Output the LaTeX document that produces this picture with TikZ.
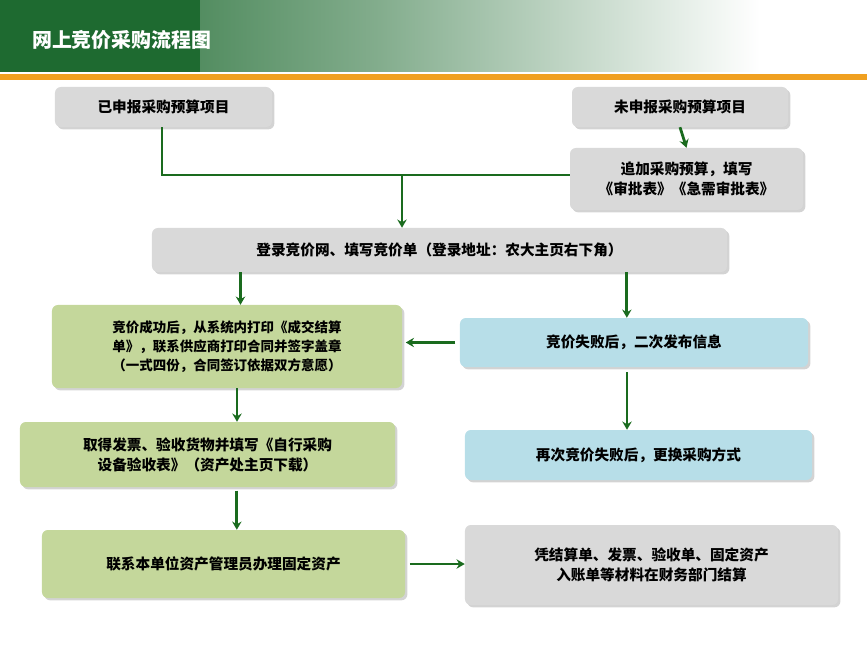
\documentclass[tikz,border=0pt]{standalone}
\usepackage{fontspec}
\setmainfont{Noto Sans CJK SC}
\usetikzlibrary{shadows,arrows.meta}
\definecolor{hdr}{HTML}{1E6A30}
\definecolor{arr}{HTML}{1A6B1E}
\definecolor{gbox}{HTML}{D9D9D9}
\definecolor{lgreen}{HTML}{C4D79B}
\definecolor{lblue}{HTML}{B7DEE8}
\definecolor{orng}{HTML}{F0A020}
\begin{document}
\begin{tikzpicture}[x=0.03cm,y=-0.03cm,
 box/.style={rounded corners=5pt,draw=none,drop shadow={shadow xshift=2pt,shadow yshift=-2pt,opacity=0.35},align=center,font=\bfseries\fontsize{12.5}{17}\selectfont,text=black,inner sep=2pt},
 ar/.style={draw=arr,line width=2.4pt,-{Stealth[length=7pt,width=8pt]}},
 ln/.style={draw=arr,line width=2.4pt}]
\useasboundingbox (0,0) rectangle (867,650);
\shade[left color=hdr,right color=white,middle color=hdr!55!white] (0,0) rectangle (760,72);
\fill[hdr] (0,0) rectangle (200,72);
\fill[orng] (0,74) rectangle (867,80);
\node[text=white,font=\bfseries\fontsize{17}{20}\selectfont,anchor=west] (title) at (28,40) {网上竞价采购流程图};
\node[box,fill=gbox,minimum width=6.51cm,minimum height=1.2cm] (b1) at (163.5,107) {已申报采购预算项目};
\node[box,fill=gbox,minimum width=6.48cm,minimum height=1.2cm] (b2) at (680,107) {未申报采购预算项目};
\node[box,fill=gbox,minimum width=6.99cm,minimum height=1.86cm] (b3) at (686.5,179) {追加采购预算，填写\\《审批表》《急需审批表》};
\node[box,fill=gbox,minimum width=17.25cm,minimum height=1.32cm] (b4) at (439.5,250) {登录竞价网、填写竞价单（登录地址：农大主页右下角）};
\node[box,fill=lgreen,minimum width=10.5cm,minimum height=2.49cm,font=\bfseries\fontsize{11.5}{16}\selectfont] (b5) at (227,346.5) {竞价成功后，从系统内打印《成交结算\\单》，联系供应商打印合同并签字盖章\\（一式四份，合同签订依据双方意愿）};
\node[box,fill=lblue,minimum width=10.44cm,minimum height=1.47cm] (b6) at (634,342.5) {竞价失败后，二次发布信息};
\node[box,fill=lgreen,minimum width=11.25cm,minimum height=1.95cm] (b7) at (207.5,454.5) {取得发票、验收货物并填写《自行采购\\设备验收表》（资产处主页下载）};
\node[box,fill=lblue,minimum width=10.41cm,minimum height=1.5cm] (b8) at (638.5,455) {再次竞价失败后，更换采购方式};
\node[box,fill=lgreen,minimum width=10.89cm,minimum height=2.04cm] (b9) at (223.5,564) {联系本单位资产管理员办理固定资产};
\node[box,fill=gbox,minimum width=11.19cm,minimum height=2.4cm] (b10) at (651.5,565) {凭结算单、发票、验收单、固定资产\\入账单等材料在财务部门结算};
\coordinate (c1) at (162,175);
\coordinate (c2) at (402,175);
\draw[ln] (b1.south -| c1) -- (c1) -- (c1 -| b3.west);
\draw[ar] (c2) -- (c2 |- b4.north);
\draw[ar] (b2.south) -- (b3.north);
\draw[ar] ([xshift=-5.97cm]b4.south) -- ([xshift=-5.97cm]b4.south |- b5.north);
\draw[ar] ([xshift=5.62cm]b4.south) -- ([xshift=5.62cm]b4.south |- b6.north);
\draw[ar] ([xshift=-4pt]b6.west) -- ([xshift=3pt]b6.west -| b5.east);
\draw[ar] ([xshift=0.3cm]b5.south) -- ([xshift=0.3cm]b5.south |- b7.north);
\draw[ar] ([xshift=-0.21cm,yshift=-0.15cm]b6.south) -- ([xshift=-0.21cm]b6.south |- b8.north);
\draw[ar] ([xshift=0.88cm,yshift=-0.1cm]b7.south) -- ([xshift=0.88cm]b7.south |- b9.north);
\draw[ar] ([xshift=4pt]b9.east) -- (b9.east -| b10.west);
\end{tikzpicture}
\end{document}
